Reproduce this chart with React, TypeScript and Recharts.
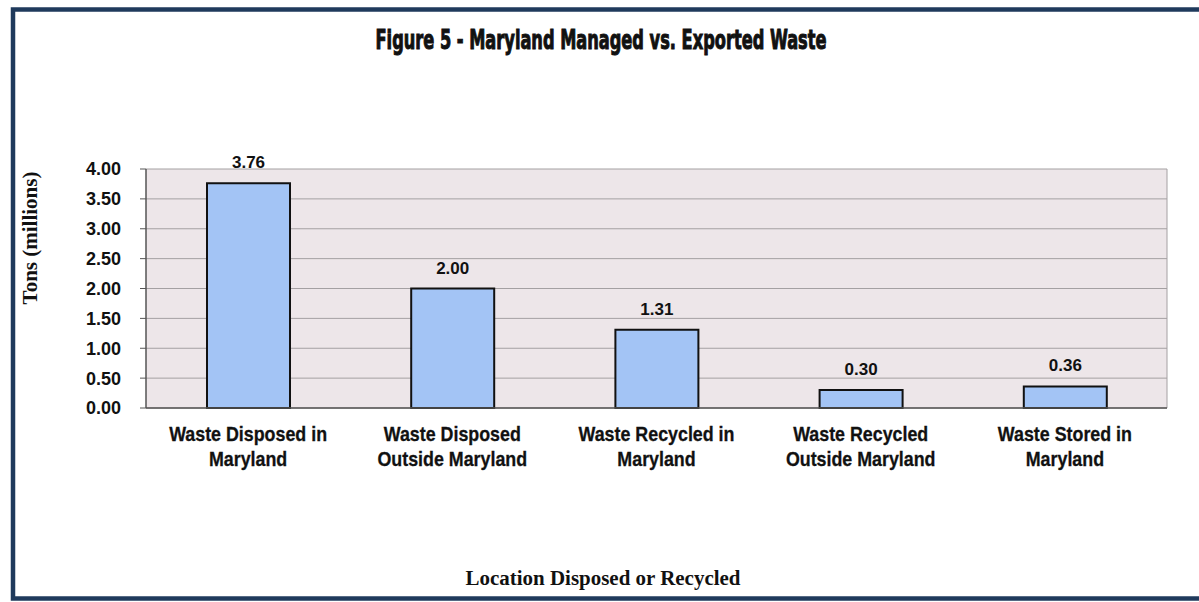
import { BarChart, Bar, XAxis, YAxis, CartesianGrid, LabelList } from 'recharts';

const categories = [
  'Waste Disposed in\nMaryland',
  'Waste Disposed\nOutside Maryland',
  'Waste Recycled in\nMaryland',
  'Waste Recycled\nOutside Maryland',
  'Waste Stored in\nMaryland',
];
const tons = [3.76, 2.0, 1.31, 0.3, 0.36];
const yTicks = [0, 0.5, 1, 1.5, 2, 2.5, 3, 3.5, 4];

const chartData = categories.map((name, i) => ({ name, tons: tons[i] }));

const sans = "'Liberation Sans', Arial, sans-serif";
const serif = "'Liberation Serif', 'Times New Roman', serif";

// Arial Narrow look: bold sans squeezed horizontally
const CategoryTick = ({ x, y, payload }: any) => {
  const lines = String(payload.value).split('\n');
  return (
    <g transform={`translate(${x},${y}) scale(0.85,1)`}>
      <text x={0} y={0} textAnchor="middle" fontFamily={sans} fontWeight={700} fontSize={21} fill="#111" stroke="#111" strokeWidth={0.3}>
        {lines.map((l, i) => (
          <tspan key={i} x={0} dy={i === 0 ? 27 : 25}>{l}</tspan>
        ))}
      </text>
    </g>
  );
};

export default function App() {
  return (
    <div style={{ position: 'absolute', left: 0, top: 0, width: 1199, height: 602, background: '#fff', overflow: 'hidden' }}>
      <BarChart
        width={1199}
        height={602}
        data={chartData}
        margin={{ top: 169, right: 32, bottom: 0, left: 0 }}
      >
        <CartesianGrid
          stroke="#a4a0a2"
          fill="#ede6e9"
          vertical={true}
          verticalCoordinatesGenerator={({ offset }: any) => [offset.left + offset.width]}
        />
        <XAxis
          dataKey="name"
          height={194}
          interval={0}
          tickLine={false}
          tickMargin={0}
          axisLine={{ stroke: '#555', strokeWidth: 1.5 }}
          tick={<CategoryTick />}
        />
        <YAxis
          width={146}
          domain={[0, 4]}
          ticks={yTicks}
          interval={0}
          tickFormatter={(v: number) => v.toFixed(2)}
          tickSize={6}
          tickMargin={19}
          axisLine={{ stroke: '#555', strokeWidth: 1.5 }}
          tickLine={{ stroke: '#555' }}
          tick={{ fontFamily: sans, fontWeight: 700, fontSize: 18, fill: '#111' }}
        />
        <Bar dataKey="tons" fill="#a3c4f5" stroke="#111" strokeWidth={2} barSize={83} isAnimationActive={false}>
          <LabelList
            dataKey="tons"
            position="top"
            offset={15}
            formatter={(v: any) => Number(v).toFixed(2)}
            style={{ fontFamily: sans, fontWeight: 700, fontSize: 17, fill: '#111' }}
          />
        </Bar>
      </BarChart>
      <svg width={1199} height={602} style={{ position: 'absolute', left: 0, top: 0, pointerEvents: 'none' }}>
        <rect x={13} y={9.5} width={1200} height={589} fill="none" stroke="#1f3a5c" strokeWidth={4.5} />
        <text
          x={601}
          y={49}
          textAnchor="middle"
          fontFamily="'DejaVu Sans Condensed', 'DejaVu Sans', sans-serif"
          fontWeight={700}
          fontSize={27}
          fill="#111"
          stroke="#111"
          strokeWidth={1}
          textLength={451}
          lengthAdjust="spacingAndGlyphs"
        >
          Figure 5 - Maryland Managed vs. Exported Waste
        </text>
        <text
          x={0}
          y={0}
          transform="translate(37 238) rotate(-90)"
          textAnchor="middle"
          fontFamily={serif}
          fontWeight={700}
          fontSize={21}
          fill="#111"
        >
          Tons (millions)
        </text>
        <text
          x={603}
          y={585}
          textAnchor="middle"
          fontFamily={serif}
          fontWeight={700}
          fontSize={20}
          fill="#111"
          textLength={275}
          lengthAdjust="spacingAndGlyphs"
        >
          Location Disposed or Recycled
        </text>
      </svg>
    </div>
  );
}
